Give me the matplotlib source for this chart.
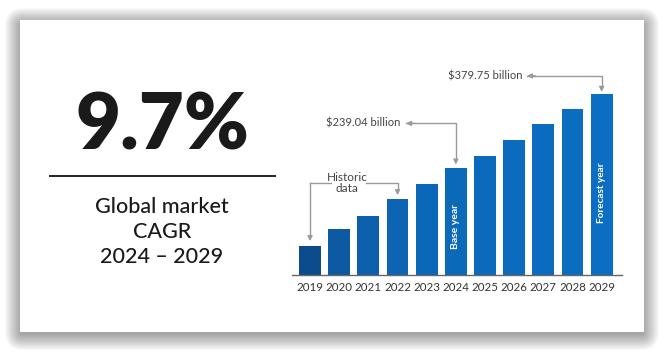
import matplotlib
matplotlib.use("Agg")
import matplotlib.pyplot as plt
from matplotlib.patches import FancyBboxPatch, Rectangle
import numpy as np

plt.rcParams['font.family'] = ['Lato', 'DejaVu Sans']

years = ['2019', '2020', '2021', '2022', '2023', '2024', '2025', '2026', '2027', '2028', '2029']
values = [92, 124, 148, 180, 210, 239.04, 263, 293, 322, 351, 379.75]
bar_colors = ['#0c4c8c', '#0d5aa3', '#0c60ad', '#0c64b3', '#0b67b7', '#0b69ba',
              '#0b6abc', '#0b6bbe', '#0b6cbf', '#0b6dc0', '#0b6ec2']
cagr_text = '9.7%'
caption_lines = ['Global market', 'CAGR', '2024 \u2013 2029']
label_2024 = '$239.04 billion'
label_2029 = '$379.75 billion'

W, H = 664, 352
fig = plt.figure(figsize=(W / 100, H / 100), dpi=100)
fig.patch.set_facecolor('white')

# background / card layer in pixel coordinates
bg = fig.add_axes([0, 0, 1, 1])
bg.set_xlim(0, W)
bg.set_ylim(H, 0)
bg.axis('off')
cx0, cy0, cx1, cy1 = 20, 20, 644, 332
for i in range(16, 0, -1):
    bg.add_patch(FancyBboxPatch((cx0 - i + 1, cy0 - i + 4), (cx1 - cx0) + 2 * i - 2, (cy1 - cy0) + 2 * i - 2,
                                boxstyle="round,pad=0,rounding_size=%d" % (i + 2),
                                facecolor='black', edgecolor='none', alpha=0.022, zorder=1))
bg.add_patch(Rectangle((cx0, cy0), cx1 - cx0, cy1 - cy0, facecolor='white', edgecolor='none', zorder=2))

# left panel
bg.text(162, 127, cagr_text, ha='center', va='center', fontsize=56, fontweight='heavy', color='#1a1a1a', zorder=3)
bg.plot([50, 275], [176, 176], color='#222222', lw=1.4, zorder=3)
for k, line in enumerate(caption_lines):
    bg.text(162, 207 + 25 * k, line, ha='center', va='center', fontsize=15.5, fontweight='medium',
            color='#1a1a1a', zorder=3)

# chart axes
ax_left, ax_right = 292, 622
ax_top, ax_bottom = 40, 275
ax = fig.add_axes([ax_left / W, 1 - ax_bottom / H, (ax_right - ax_left) / W, (ax_bottom - ax_top) / H])
ax.patch.set_alpha(0)
x = np.arange(len(years))
ax.bar(x, values, width=0.75, color=bar_colors, zorder=2)
ymin = 36.9
ax.set_ylim(ymin, ymin + (ax_bottom - ax_top) / 0.528)
ax.set_xlim(-0.62, 10.7)
for s in ['top', 'right', 'left']:
    ax.spines[s].set_visible(False)
ax.spines['bottom'].set_color('#666666')
ax.spines['bottom'].set_linewidth(1.0)
ax.set_yticks([])
ax.set_xticks(x)
ax.set_xticklabels(years, fontsize=8.3, color='#333333')
ax.tick_params(axis='x', length=0, pad=5)

gray = '#9a9a9a'
head = dict(arrowstyle='-|>', color=gray, lw=1.0, mutation_scale=7, shrinkA=0, shrinkB=0)

def bracket(xl, xr, level, tip_y):
    ax.plot([xl, xr, xr], [level, level, tip_y + 8], color=gray, lw=1.0, zorder=3, clip_on=False)
    ax.annotate('', xy=(xr, tip_y), xytext=(xr, tip_y + 9), arrowprops=head, annotation_clip=False)
    ax.annotate('', xy=(xl, level), xytext=(xl + 0.3, level), arrowprops=head, annotation_clip=False)

i24 = years.index('2024')
i29 = years.index('2029')
# $379.75 billion
bracket(7.44, i29, 414, values[i29] + 4)
ax.text(7.30, 414, label_2029, ha='right', va='center', fontsize=8, color='#444444')
# $239.04 billion
bracket(3.29, i24, 324, values[i24] + 7)
ax.text(3.10, 324, label_2024, ha='right', va='center', fontsize=8, color='#444444')

# Historic data bracket
i19, i22 = years.index('2019'), years.index('2022')
hl = 210.6
ax.plot([i19, i19], [values[i19] + 18, hl], color=gray, lw=1.0, zorder=3)
ax.plot([i19, 0.72], [hl, hl], color=gray, lw=1.0, zorder=3)
ax.plot([1.92, i22, i22], [hl, hl, values[i22] + 17], color=gray, lw=1.0, zorder=3)
ax.annotate('', xy=(i19, values[i19] + 9), xytext=(i19, values[i19] + 19), arrowprops=head)
ax.annotate('', xy=(i22, values[i22] + 8), xytext=(i22, values[i22] + 18), arrowprops=head)
ax.text(1.27, hl + 1, 'Historic\ndata', ha='center', va='center', fontsize=8.5, color='#444444',
        linespacing=1.0)

ax.text(i24, 128, 'Base year', rotation=90, ha='center', va='center', fontsize=7.5,
        fontweight='bold', color='white', zorder=4)
ax.text(i29, 192, 'Forecast year', rotation=90, ha='center', va='center', fontsize=7.2,
        fontweight='bold', color='white', zorder=4)

fig.savefig('out.png', dpi=100, facecolor='white')
